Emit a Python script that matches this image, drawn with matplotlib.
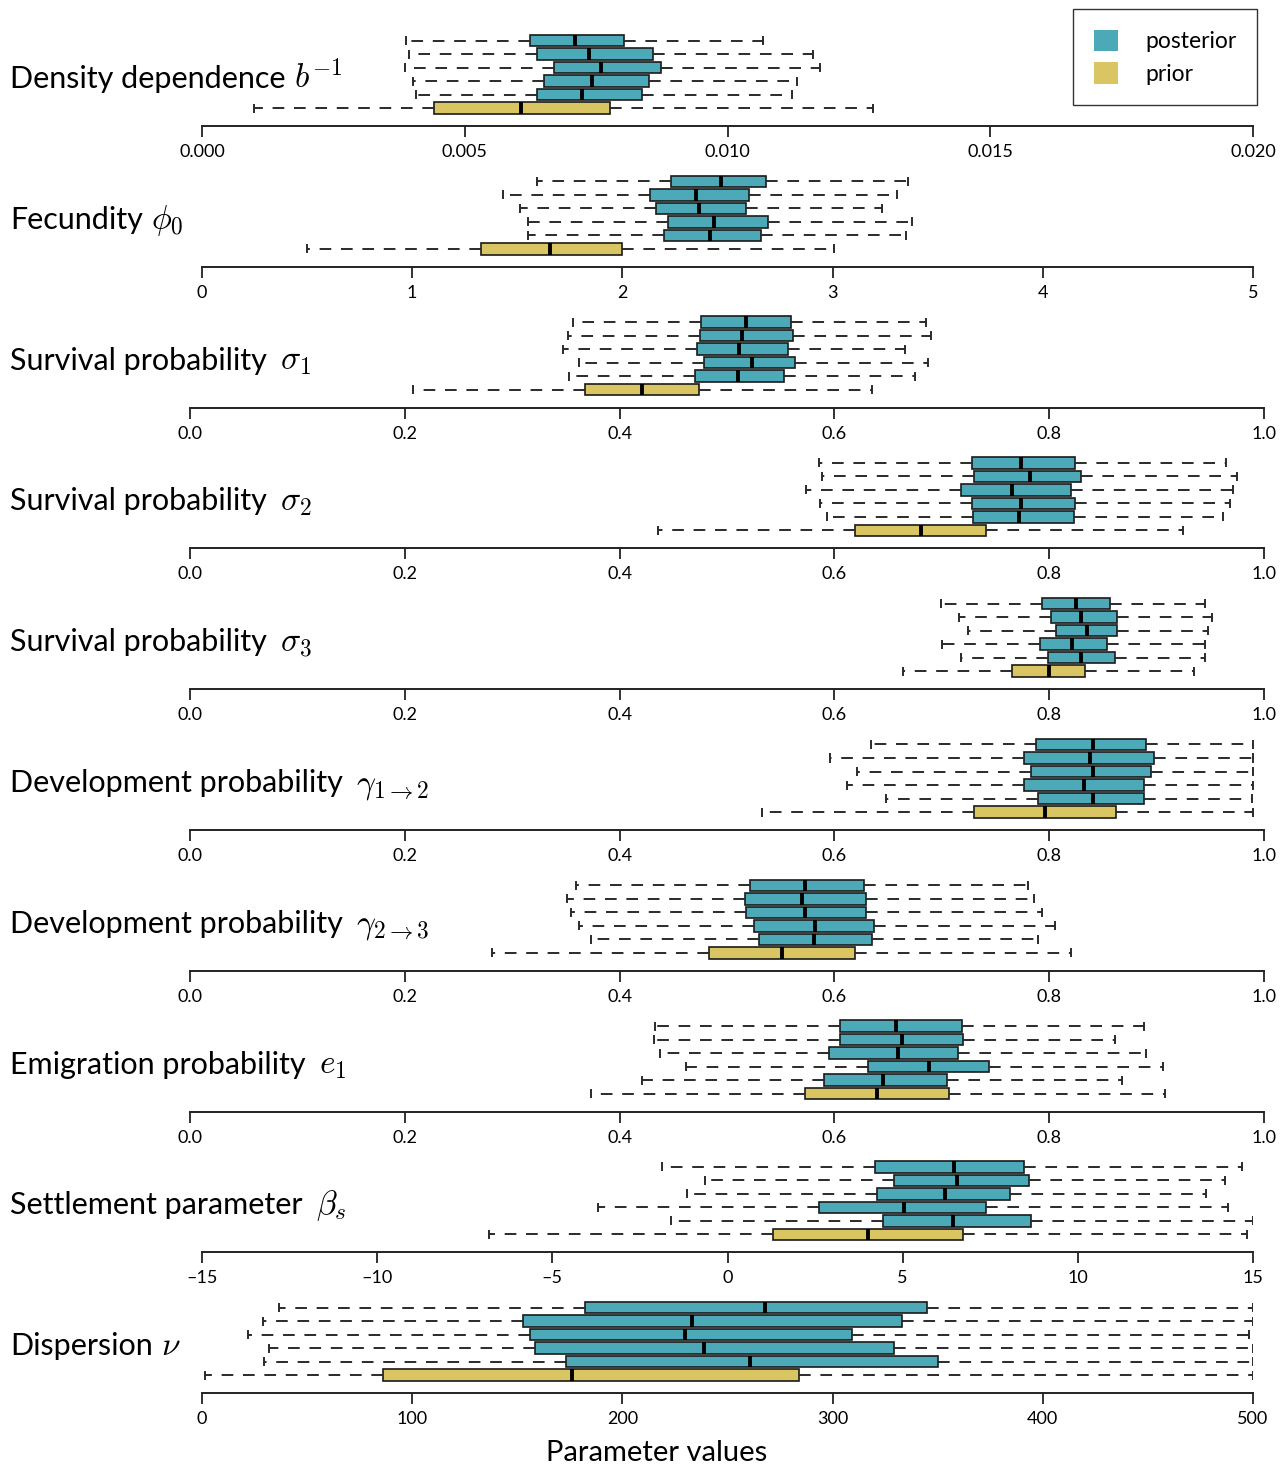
import matplotlib
matplotlib.use('Agg')
import matplotlib.pyplot as plt
from matplotlib.patches import Patch

plt.rcParams['font.family'] = ['Lato', 'DejaVu Sans']
plt.rcParams['mathtext.fontset'] = 'cm'

W, H = 1286, 1468

# panel titles: words, symbol, and whether a wider gap sits between them
names = ['Density dependence', 'Fecundity', 'Survival probability', 'Survival probability',
         'Survival probability', 'Development probability', 'Development probability',
         'Emigration probability', 'Settlement parameter', 'Dispersion']
symbols = ['$b^{-1}$', '$\\phi_0$', '$\\sigma_1$', '$\\sigma_2$', '$\\sigma_3$',
           '$\\gamma_{1\\to 2}$', '$\\gamma_{2\\to 3}$', '$e_1$', '$\\beta_s$', '$\\nu$']
wide_gap = [False, False, True, True, True, True, True, True, True, False]

# each row: (whislo, q1, median, q3, whishi); five posteriors (top to bottom) then prior
density = [
    (0.00388, 0.00624, 0.00710, 0.00803, 0.01068),
    (0.00394, 0.00638, 0.00736, 0.00858, 0.01163),
    (0.00386, 0.00670, 0.00759, 0.00874, 0.01176),
    (0.00402, 0.00650, 0.00743, 0.00850, 0.01132),
    (0.00408, 0.00638, 0.00723, 0.00838, 0.01123),
    (0.00099, 0.00441, 0.00607, 0.00776, 0.01277),
]
fecundity = [
    (1.593, 2.231, 2.469, 2.683, 3.359),
    (1.432, 2.131, 2.350, 2.602, 3.306),
    (1.513, 2.160, 2.365, 2.588, 3.235),
    (1.549, 2.217, 2.434, 2.693, 3.378),
    (1.551, 2.198, 2.415, 2.659, 3.349),
    (0.500, 1.327, 1.656, 1.998, 3.005),
]
sigma1 = [
    (0.357, 0.476, 0.518, 0.560, 0.685),
    (0.352, 0.475, 0.514, 0.561, 0.690),
    (0.347, 0.472, 0.511, 0.557, 0.666),
    (0.362, 0.479, 0.523, 0.563, 0.687),
    (0.353, 0.470, 0.510, 0.553, 0.675),
    (0.208, 0.368, 0.421, 0.474, 0.635),
]
sigma2 = [
    (0.586, 0.728, 0.774, 0.824, 0.965),
    (0.588, 0.730, 0.782, 0.830, 0.975),
    (0.574, 0.718, 0.765, 0.820, 0.971),
    (0.587, 0.728, 0.774, 0.824, 0.968),
    (0.593, 0.729, 0.772, 0.823, 0.962),
    (0.436, 0.619, 0.681, 0.741, 0.925),
]
sigma3 = [
    (0.699, 0.793, 0.825, 0.857, 0.945),
    (0.716, 0.802, 0.830, 0.863, 0.952),
    (0.724, 0.806, 0.835, 0.863, 0.948),
    (0.700, 0.791, 0.821, 0.854, 0.945),
    (0.718, 0.799, 0.830, 0.861, 0.945),
    (0.664, 0.765, 0.800, 0.833, 0.935),
]
gamma12 = [
    (0.634, 0.788, 0.841, 0.890, 0.990),
    (0.596, 0.777, 0.838, 0.898, 0.990),
    (0.621, 0.783, 0.841, 0.895, 0.990),
    (0.612, 0.777, 0.832, 0.888, 0.990),
    (0.648, 0.790, 0.841, 0.888, 0.989),
    (0.533, 0.730, 0.796, 0.862, 0.990),
]
gamma23 = [
    (0.359, 0.521, 0.573, 0.628, 0.780),
    (0.351, 0.517, 0.570, 0.629, 0.786),
    (0.355, 0.518, 0.573, 0.629, 0.793),
    (0.362, 0.525, 0.582, 0.637, 0.805),
    (0.373, 0.530, 0.581, 0.635, 0.790),
    (0.281, 0.483, 0.551, 0.619, 0.820),
]
emig = [
    (0.433, 0.605, 0.657, 0.719, 0.888),
    (0.432, 0.605, 0.663, 0.720, 0.861),
    (0.438, 0.595, 0.659, 0.715, 0.890),
    (0.462, 0.631, 0.688, 0.744, 0.906),
    (0.421, 0.590, 0.645, 0.705, 0.868),
    (0.373, 0.573, 0.640, 0.707, 0.908),
]
settle = [
    (-1.88, 4.20, 6.47, 8.47, 14.68),
    (-0.63, 4.76, 6.55, 8.60, 14.19),
    (-1.17, 4.27, 6.21, 8.06, 13.67),
    (-3.69, 2.62, 5.03, 7.38, 14.29),
    (-1.60, 4.44, 6.45, 8.67, 14.99),
    (-6.81, 1.31, 4.01, 6.71, 14.83),
]
dispersion = [
    (36.6, 182, 268, 345, 500),
    (29, 152.5, 233, 333, 500),
    (22, 156, 230, 309, 498),
    (32, 158.5, 239, 329, 500),
    (29.5, 173, 260.6, 350, 500),
    (1.2, 86, 176, 284, 500),
]
panels = [density, fecundity, sigma1, sigma2, sigma3, gamma12, gamma23, emig, settle, dispersion]

xlims = [(0, 0.02), (0, 5)] + [(0, 1)] * 6 + [(-15, 15), (0, 500)]
xticks = [
    [0, 0.005, 0.010, 0.015, 0.020],
    [0, 1, 2, 3, 4, 5],
] + [[0, 0.2, 0.4, 0.6, 0.8, 1.0]] * 6 + [
    [-15, -10, -5, 0, 5, 10, 15],
    [0, 100, 200, 300, 400, 500],
]
fmts = ['%.3f', '%d'] + ['%.1f'] * 6 + ['%d', '%d']

teal = '#4BA9B8'
gold = '#D9C663'
colors = [teal] * 5 + [gold]

fig = plt.figure(figsize=(W / 100, H / 100), dpi=100)
renderer = fig.canvas.get_renderer()

row_pos = [85.5, 72, 58.5, 45, 31.5, 18]
ax_h = 110

for i, data in enumerate(panels):
    axis_y = 126 + i * 140.8
    if i in (0, 1, 8, 9):
        x0, x1 = 202, 1253
    else:
        x0, x1 = 190, 1264
    ax = fig.add_axes([x0 / W, 1 - axis_y / H, (x1 - x0) / W, ax_h / H])
    stats = [dict(whislo=r[0], q1=r[1], med=r[2], q3=r[3], whishi=r[4], fliers=[]) for r in data]
    bp = ax.bxp(stats, positions=row_pos, widths=11.5, capwidths=7,
                orientation='horizontal', patch_artist=True, manage_ticks=False,
                boxprops=dict(edgecolor='#1a1a1a', linewidth=1.2),
                whiskerprops=dict(color='#2a2a2a', linewidth=1.4, linestyle=(0, (6, 5))),
                capprops=dict(color='#2a2a2a', linewidth=1.4),
                medianprops=dict(color='black', linewidth=2.8, solid_capstyle='butt'))
    for patch, c in zip(bp['boxes'], colors):
        patch.set_facecolor(c)
    ax.set_xlim(*xlims[i])
    ax.set_ylim(0, ax_h)
    ax.set_xticks(xticks[i])
    ax.set_xticklabels([(fmts[i] % t).replace('-', '\u2013') for t in xticks[i]])
    ax.set_yticks([])
    for s in ('top', 'left', 'right'):
        ax.spines[s].set_visible(False)
    ax.spines['bottom'].set_linewidth(1.4)
    ax.spines['bottom'].set_color('#222222')
    ax.tick_params(axis='x', direction='out', length=8, width=1.3, color='#222222',
                   labelsize=13, pad=5)
    ax.patch.set_alpha(0)

    base = 1 - (axis_y - 38) / H
    t = fig.text(10 / W, base, names[i], fontsize=22, va='baseline', ha='left')
    ext = t.get_window_extent(renderer)
    gap = 13 if wide_gap[i] else 8
    fig.text((ext.x1 + gap) / W, base, symbols[i], fontsize=24, va='baseline', ha='left')

fig.text(657 / W, 1 - 1453 / H, 'Parameter values', fontsize=21, ha='center', va='center')

handles = [Patch(facecolor=teal, edgecolor='none', label='posterior'),
           Patch(facecolor=gold, edgecolor='none', label='prior')]
leg = fig.legend(handles=handles, loc='upper right', bbox_to_anchor=(1257 / W, 1 - 9 / H),
                 fontsize=16.5, frameon=True, fancybox=False, edgecolor='black',
                 handlelength=1.05, handleheight=1.05, handletextpad=1.2,
                 labelspacing=0.45, borderpad=0.9, borderaxespad=0)
leg.get_frame().set_linewidth(1.0)

fig.savefig('out.png', dpi=100)
